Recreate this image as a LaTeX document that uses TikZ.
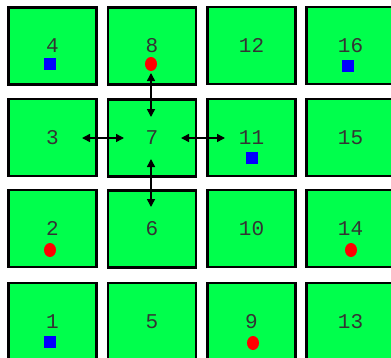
\documentclass[tikz,border=0pt]{standalone}
\usepackage{fontspec}
\setmonofont{Liberation Mono}
\usetikzlibrary{arrows.meta,shapes.geometric}
\definecolor{cellgreen}{RGB}{0,255,76}
\definecolor{markblue}{RGB}{0,0,255}
\definecolor{markred}{RGB}{255,0,0}
\tikzset{
  cell/.style={draw=black, line width=2.1pt, fill=cellgreen, minimum width=88pt, minimum height=77pt, inner sep=0pt, font=\fontsize{21}{21}\selectfont\ttfamily, text=black!80},
  sqmark/.style={fill=markblue, minimum width=12pt, minimum height=12pt, inner sep=0pt},
  dotmark/.style={ellipse, fill=markred, minimum width=12pt, minimum height=14pt, inner sep=0pt},
  link/.style={line width=1.5pt, {Triangle[length=8pt,width=8pt]}-{Triangle[length=8pt,width=8pt]}}
}
\begin{document}
\begin{tikzpicture}[x=1pt,y=-1pt]
\useasboundingbox (0,0) rectangle (391,357);
\begin{scope}
\clip (0,0) rectangle (391,357);
% column 1
\node[cell] (b4) at (52.5,46) {4};
\node[cell] (b3) at (52.5,137.5) {3};
\node[cell] (b2) at (52.5,228.5) {2};
\node[cell] (b1) at (52.5,321.5) {1};
% column 2
\node[cell] (b8) at (152,46) {8};
\node[cell] (b7) at (152,138) {7};
\node[cell] (b6) at (152,229) {6};
\node[cell] (b5) at (152,321.5) {5};
% column 3
\node[cell] (b12) at (251.5,45.5) {12};
\node[cell] (b11) at (251.5,137.5) {11};
\node[cell] (b10) at (251.5,228.5) {10};
\node[cell] (b9) at (251.5,321.5) {9};
% column 4
\node[cell] (b16) at (350.5,45.5) {16};
\node[cell] (b15) at (350.5,137.5) {15};
\node[cell] (b14) at (350.5,228.5) {14};
\node[cell] (b13) at (350.5,321.5) {13};
\end{scope}
% markers
\node[sqmark] (m4) at (50,63.5) {};
\node[sqmark] (m16) at (348,66) {};
\node[sqmark] (m11) at (252,158) {};
\node[sqmark] (m1) at (50,342) {};
\node[dotmark] (m8) at (151,64) {};
\node[dotmark] (m2) at (50,250) {};
\node[dotmark] (m14) at (351,250) {};
\node[dotmark] (m9) at (253,343) {};
% arrow ends
\coordinate (t8) at (151,73);
\coordinate (t7n) at (151,117);
\coordinate (t3) at (82,138);
\coordinate (t7w) at (124,138);
\coordinate (t7e) at (181,138);
\coordinate (t11) at (225,138);
\coordinate (t7s) at (151,159);
\coordinate (t6) at (151,207);
\draw[link] (t8) -- (t7n);
\draw[link] (t3) -- (t7w);
\draw[link] (t7e) -- (t11);
\draw[link] (t7s) -- (t6);
\end{tikzpicture}
\end{document}
